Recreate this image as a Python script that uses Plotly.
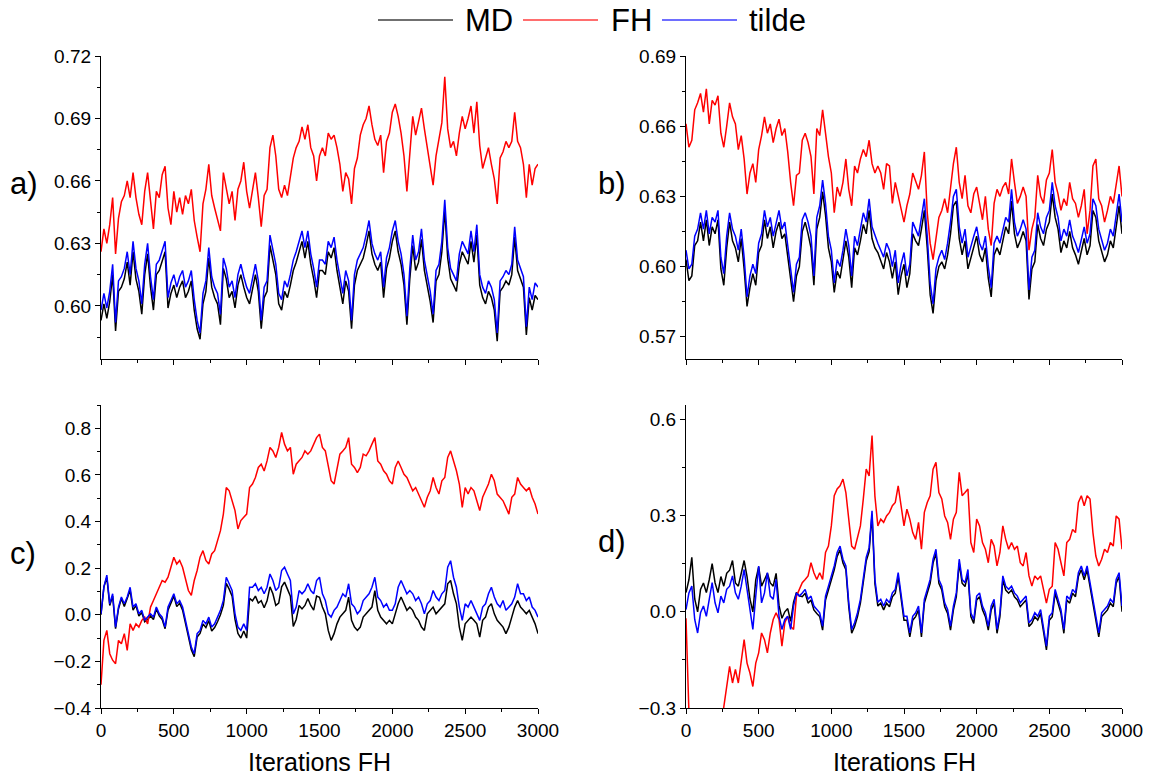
import numpy as np
import plotly.graph_objects as go

STEP = 20  # iterations between stored samples

# ---------------- panel a ----------------
a_md = [0.593, 0.601, 0.594, 0.602, 0.615, 0.588, 0.607, 0.609, 0.613, 0.621,
        0.610, 0.626, 0.613, 0.607, 0.596, 0.615, 0.625, 0.609, 0.598, 0.615,
        0.617, 0.621, 0.626, 0.599, 0.606, 0.610, 0.604, 0.609, 0.612, 0.604,
        0.607, 0.612, 0.598, 0.589, 0.584, 0.601, 0.607, 0.623, 0.609, 0.604,
        0.601, 0.591, 0.618, 0.613, 0.604, 0.607, 0.599, 0.610, 0.615, 0.609,
        0.604, 0.601, 0.609, 0.615, 0.607, 0.589, 0.604, 0.607, 0.629, 0.621,
        0.615, 0.601, 0.598, 0.607, 0.604, 0.610, 0.617, 0.621, 0.626, 0.631,
        0.623, 0.631, 0.620, 0.613, 0.604, 0.617,
        0.617, 0.615, 0.626, 0.623, 0.628, 0.617, 0.609, 0.601, 0.612,
        0.607, 0.589, 0.610, 0.617, 0.620, 0.623, 0.629, 0.636, 0.625, 0.620,
        0.617, 0.621, 0.604, 0.618, 0.623, 0.631, 0.636, 0.626, 0.620, 0.610,
        0.591, 0.613, 0.629, 0.617, 0.621, 0.632, 0.617, 0.610, 0.602, 0.592,
        0.612, 0.615, 0.626, 0.646, 0.623, 0.613, 0.610, 0.607, 0.620, 0.626,
        0.623, 0.620, 0.631, 0.621, 0.634, 0.610, 0.604, 0.601, 0.607, 0.604,
        0.598, 0.583, 0.607, 0.609, 0.612, 0.610, 0.615, 0.633, 0.617, 0.613,
        0.609, 0.586, 0.604, 0.598, 0.605, 0.603]
a_fh = [0.626, 0.637, 0.630, 0.639, 0.652, 0.625, 0.642, 0.650, 0.653, 0.660,
        0.652, 0.664, 0.652, 0.644, 0.639, 0.655, 0.664, 0.650, 0.637, 0.655,
        0.652, 0.663, 0.667, 0.647, 0.639, 0.655, 0.645, 0.652, 0.644, 0.653,
        0.649, 0.656, 0.641, 0.633, 0.626, 0.649, 0.656, 0.668, 0.653, 0.647,
        0.642, 0.636, 0.664, 0.656, 0.649, 0.655, 0.641, 0.656, 0.660, 0.669,
        0.655, 0.647, 0.655, 0.664, 0.652, 0.638, 0.653, 0.656, 0.676, 0.682,
        0.672, 0.656, 0.652, 0.658, 0.653, 0.661, 0.671, 0.676, 0.679, 0.686,
        0.680, 0.687, 0.676, 0.672, 0.660, 0.672,
        0.676, 0.672, 0.683, 0.680, 0.682, 0.676, 0.668, 0.655, 0.664,
        0.661, 0.649, 0.666, 0.671, 0.682, 0.687, 0.690, 0.696, 0.687, 0.680,
        0.677, 0.682, 0.664, 0.679, 0.683, 0.693, 0.697, 0.691, 0.683, 0.672,
        0.655, 0.674, 0.691, 0.682, 0.688, 0.695, 0.685, 0.676, 0.666, 0.658,
        0.672, 0.680, 0.688, 0.710, 0.685, 0.676, 0.679, 0.672, 0.683, 0.691,
        0.685, 0.690, 0.696, 0.683, 0.698, 0.677, 0.666, 0.671, 0.676, 0.668,
        0.661, 0.649, 0.671, 0.674, 0.679, 0.676, 0.679, 0.693, 0.679, 0.676,
        0.668, 0.652, 0.668, 0.658, 0.666, 0.668]
a_tilde = [0.598, 0.606, 0.599, 0.607, 0.620, 0.592, 0.612, 0.614, 0.618, 0.626,
           0.615, 0.631, 0.618, 0.612, 0.601, 0.620, 0.630, 0.614, 0.603, 0.620,
           0.622, 0.626, 0.631, 0.604, 0.611, 0.615, 0.609, 0.614, 0.617, 0.609,
           0.612, 0.617, 0.603, 0.593, 0.587, 0.606, 0.612, 0.628, 0.614, 0.609,
           0.606, 0.596, 0.623, 0.618, 0.609, 0.612, 0.604, 0.615, 0.620, 0.614,
           0.609, 0.606, 0.614, 0.620, 0.612, 0.593, 0.609, 0.612, 0.634, 0.626,
           0.620, 0.606, 0.603, 0.612, 0.609, 0.615, 0.622, 0.626, 0.631, 0.636,
           0.628, 0.636, 0.625, 0.618, 0.609, 0.622,
           0.622, 0.620, 0.631, 0.628, 0.633, 0.622, 0.614, 0.606, 0.617,
           0.612, 0.593, 0.615, 0.622, 0.625, 0.628, 0.634, 0.641, 0.630, 0.625,
           0.622, 0.626, 0.609, 0.623, 0.628, 0.636, 0.641, 0.631, 0.625, 0.615,
           0.595, 0.618, 0.634, 0.622, 0.626, 0.637, 0.622, 0.615, 0.607, 0.596,
           0.617, 0.620, 0.631, 0.651, 0.628, 0.618, 0.615, 0.612, 0.625, 0.631,
           0.628, 0.625, 0.636, 0.626, 0.639, 0.615, 0.609, 0.606, 0.612, 0.609,
           0.603, 0.587, 0.612, 0.614, 0.617, 0.615, 0.620, 0.638, 0.622, 0.618,
           0.614, 0.590, 0.609, 0.603, 0.611, 0.609]

# ---------------- panel b ----------------
b_md = [0.603, 0.594, 0.596, 0.609, 0.611, 0.619, 0.611, 0.620, 0.609, 0.617,
        0.614, 0.620, 0.599, 0.592, 0.608, 0.619, 0.611, 0.608, 0.602, 0.612,
        0.599, 0.583, 0.591, 0.597, 0.592, 0.606, 0.609, 0.620, 0.612, 0.617,
        0.608, 0.615, 0.619, 0.612, 0.614, 0.604, 0.594, 0.585, 0.596, 0.600,
        0.615, 0.619, 0.614, 0.608, 0.592, 0.616, 0.621, 0.632, 0.622, 0.608,
        0.602, 0.589, 0.598, 0.595, 0.603, 0.611, 0.604, 0.591, 0.608, 0.605,
        0.611, 0.618, 0.614, 0.624, 0.612, 0.608, 0.606, 0.602, 0.599, 0.606,
        0.602, 0.595, 0.602, 0.588, 0.596, 0.601,
        0.591, 0.597, 0.614, 0.611, 0.609, 0.616, 0.624, 0.608, 0.588,
        0.580, 0.594, 0.600, 0.602, 0.599, 0.605, 0.614, 0.626, 0.628, 0.612,
        0.605, 0.611, 0.599, 0.604, 0.608, 0.613, 0.605, 0.602, 0.608, 0.595,
        0.587, 0.605, 0.608, 0.605, 0.611, 0.617, 0.614, 0.628, 0.614, 0.608,
        0.611, 0.615, 0.611, 0.586, 0.599, 0.602, 0.618, 0.612, 0.609, 0.616,
        0.619, 0.631, 0.621, 0.616, 0.606, 0.611, 0.608, 0.615, 0.608, 0.605,
        0.601, 0.606, 0.612, 0.605, 0.609, 0.624, 0.621, 0.611, 0.606, 0.602,
        0.605, 0.611, 0.608, 0.616, 0.626, 0.614]
b_fh = [0.661, 0.651, 0.654, 0.667, 0.670, 0.674, 0.666, 0.676, 0.661, 0.671,
        0.669, 0.673, 0.657, 0.651, 0.660, 0.670, 0.664, 0.661, 0.650, 0.656,
        0.646, 0.631, 0.640, 0.644, 0.636, 0.650, 0.656, 0.664, 0.657, 0.661,
        0.653, 0.659, 0.663, 0.656, 0.659, 0.649, 0.636, 0.626, 0.639, 0.640,
        0.654, 0.657, 0.653, 0.647, 0.631, 0.659, 0.656, 0.667, 0.657, 0.647,
        0.640, 0.623, 0.634, 0.630, 0.636, 0.646, 0.633, 0.626, 0.643, 0.640,
        0.646, 0.650, 0.647, 0.654, 0.644, 0.640, 0.643, 0.640, 0.633, 0.644,
        0.643, 0.627, 0.636, 0.630, 0.624, 0.619,
        0.626, 0.631, 0.640, 0.636, 0.633, 0.639, 0.649, 0.623, 0.610,
        0.603, 0.613, 0.621, 0.624, 0.629, 0.623, 0.633, 0.644, 0.651, 0.636,
        0.629, 0.639, 0.626, 0.623, 0.631, 0.634, 0.627, 0.620, 0.630, 0.616,
        0.609, 0.627, 0.633, 0.630, 0.634, 0.636, 0.631, 0.646, 0.636, 0.627,
        0.630, 0.634, 0.630, 0.607, 0.616, 0.621, 0.639, 0.630, 0.627, 0.637,
        0.640, 0.650, 0.636, 0.631, 0.624, 0.629, 0.626, 0.636, 0.629, 0.627,
        0.621, 0.626, 0.633, 0.614, 0.624, 0.643, 0.646, 0.629, 0.626, 0.619,
        0.624, 0.630, 0.627, 0.636, 0.643, 0.630]
b_tilde = [0.607, 0.599, 0.601, 0.613, 0.616, 0.623, 0.616, 0.624, 0.614, 0.621,
           0.619, 0.624, 0.604, 0.597, 0.613, 0.623, 0.616, 0.613, 0.607, 0.616,
           0.604, 0.587, 0.596, 0.601, 0.597, 0.610, 0.614, 0.624, 0.617, 0.621,
           0.613, 0.619, 0.624, 0.616, 0.619, 0.609, 0.599, 0.589, 0.601, 0.604,
           0.620, 0.623, 0.619, 0.613, 0.596, 0.621, 0.626, 0.637, 0.627, 0.613,
           0.607, 0.593, 0.603, 0.600, 0.607, 0.616, 0.609, 0.596, 0.613, 0.609,
           0.616, 0.623, 0.619, 0.629, 0.617, 0.613, 0.610, 0.607, 0.604, 0.610,
           0.607, 0.600, 0.607, 0.593, 0.601, 0.606,
           0.596, 0.601, 0.619, 0.616, 0.613, 0.621, 0.629, 0.613, 0.593,
           0.584, 0.599, 0.604, 0.607, 0.603, 0.610, 0.619, 0.630, 0.633, 0.617,
           0.610, 0.616, 0.604, 0.609, 0.613, 0.617, 0.610, 0.607, 0.613, 0.600,
           0.591, 0.610, 0.613, 0.610, 0.616, 0.621, 0.619, 0.633, 0.619, 0.613,
           0.616, 0.620, 0.616, 0.590, 0.604, 0.607, 0.623, 0.617, 0.614, 0.621,
           0.624, 0.636, 0.626, 0.621, 0.611, 0.616, 0.613, 0.620, 0.613, 0.610,
           0.606, 0.611, 0.617, 0.610, 0.614, 0.629, 0.626, 0.616, 0.611, 0.607,
           0.610, 0.616, 0.613, 0.621, 0.631, 0.619]

# ---------------- panel c ----------------
c_md = [0.0, 0.12, 0.16, 0.04, 0.08, -0.06, 0.025, 0.07, 0.035, 0.07,
        0.105, 0.02, 0.04, -0.005, 0.01, -0.03, -0.02, -0.005, -0.02, 0.025,
        -0.005, -0.02, -0.06, 0.02, 0.05, 0.08, 0.035, 0.05, 0.02, -0.035,
        -0.09, -0.15, -0.18, -0.095, -0.08, -0.04, -0.055, -0.025, -0.07, -0.055,
        -0.03, 0.0, 0.04, 0.135, 0.11, 0.08, -0.02, -0.08, -0.1, -0.07,
        -0.1, 0.07, 0.06, 0.08, 0.05, 0.06, 0.03, 0.06, 0.12, 0.09,
        0.04, 0.05, 0.12, 0.14, 0.11, 0.08, -0.05, -0.02, 0.04, 0.025,
        0.04, 0.07, 0.04, 0.02, 0.08, 0.075,
        0.033, 0.004, -0.067, -0.11, -0.081, -0.039, -0.01, 0.004, 0.019,
        0.076, -0.024, -0.053, -0.067, -0.053, -0.01, 0.004, 0.019, 0.033, 0.104,
        0.019, -0.01, -0.024, -0.039, -0.024, -0.039, 0.004, 0.047, 0.076, 0.047,
        0.019, 0.033, 0.019, -0.01, -0.024, -0.053, -0.067, 0.004, 0.019, 0.033,
        0.004, 0.019, 0.033, 0.047, 0.133, 0.147, 0.09, 0.047, -0.053, -0.11,
        -0.039, -0.024, -0.01, -0.024, -0.039, -0.096, -0.024, -0.01, 0.033, 0.047,
        0.004, -0.024, -0.039, -0.053, -0.081, -0.053, -0.01, 0.033, 0.061, 0.033,
        0.019, 0.004, 0.019, -0.01, -0.039, -0.081]
c_fh = [-0.30, -0.11, -0.067, -0.167, -0.195, -0.21, -0.11, -0.124, -0.081, -0.153,
        -0.039, -0.067, -0.039, -0.053, -0.024, -0.01, -0.039, 0.033, 0.061, 0.09,
        0.118, 0.147, 0.14, 0.161, 0.204, 0.247, 0.218, 0.233, 0.204, 0.147,
        0.104, 0.083, 0.147, 0.19, 0.247, 0.275, 0.233, 0.218, 0.261, 0.275,
        0.318, 0.361, 0.432, 0.546, 0.532, 0.489, 0.447, 0.368, 0.404, 0.418,
        0.432, 0.546, 0.561, 0.589, 0.632, 0.646, 0.617, 0.66, 0.718, 0.703,
        0.675, 0.718, 0.782, 0.732, 0.703, 0.718, 0.603, 0.646, 0.66, 0.675,
        0.703, 0.689, 0.703, 0.732, 0.76, 0.775,
        0.718, 0.703, 0.632, 0.575, 0.561, 0.618, 0.689, 0.703, 0.718,
        0.76, 0.646, 0.632, 0.61, 0.632, 0.689, 0.682, 0.703, 0.732, 0.76,
        0.66, 0.646, 0.618, 0.603, 0.575, 0.561, 0.632, 0.66, 0.632, 0.603,
        0.589, 0.561, 0.532, 0.546, 0.518, 0.489, 0.461, 0.504, 0.532, 0.589,
        0.546, 0.518, 0.575, 0.589, 0.675, 0.703, 0.66, 0.618, 0.561, 0.461,
        0.546, 0.518, 0.546, 0.532, 0.489, 0.447, 0.504, 0.532, 0.561, 0.603,
        0.575, 0.518, 0.504, 0.489, 0.461, 0.432, 0.504, 0.518, 0.589, 0.561,
        0.546, 0.532, 0.546, 0.504, 0.475, 0.432]
c_tilde = [0.004, 0.12, 0.17, 0.047, 0.09, -0.053, 0.033, 0.076, 0.047, 0.076,
           0.118, 0.033, 0.047, 0.004, 0.019, -0.024, -0.01, 0.004, -0.01, 0.033,
           0.004, -0.01, -0.053, 0.033, 0.061, 0.09, 0.047, 0.061, 0.033, -0.024,
           -0.081, -0.138, -0.167, -0.081, -0.067, -0.024, -0.039, -0.01, -0.053, -0.039,
           -0.01, 0.019, 0.061, 0.161, 0.133, 0.104, 0.004, -0.053, -0.067, -0.039,
           -0.067, 0.118, 0.118, 0.133, 0.104, 0.118, 0.09, 0.118, 0.175, 0.147,
           0.104, 0.118, 0.19, 0.204, 0.175, 0.147, 0.004, 0.033, 0.104, 0.09,
           0.104, 0.133, 0.104, 0.09, 0.147, 0.161,
           0.09, 0.061, 0.004, -0.01, 0.019, 0.033, 0.061, 0.09, 0.076,
           0.133, 0.047, 0.033, 0.004, 0.019, 0.061, 0.076, 0.09, 0.118, 0.161,
           0.076, 0.061, 0.033, 0.047, 0.019, 0.019, 0.047, 0.118, 0.147, 0.118,
           0.09, 0.104, 0.09, 0.061, 0.076, 0.047, 0.004, 0.047, 0.061, 0.104,
           0.076, 0.061, 0.09, 0.104, 0.204, 0.232, 0.161, 0.118, 0.033, -0.024,
           0.047, 0.033, 0.061, 0.033, 0.004, -0.024, 0.033, 0.047, 0.09, 0.118,
           0.076, 0.047, 0.033, 0.061, 0.019, 0.033, 0.047, 0.076, 0.133, 0.09,
           0.09, 0.061, 0.076, 0.033, 0.019, -0.01]

# ---------------- panel d ----------------
d_md = [0.06, 0.1, 0.17, 0.04, 0.0, 0.07, 0.09, 0.06, 0.1, 0.15,
        0.09, 0.06, 0.11, 0.08, 0.12, 0.13, 0.16, 0.09, 0.08, 0.12,
        0.16, 0.11, 0.04, 0.0, 0.1, 0.14, 0.08, 0.1, 0.12, 0.09,
        0.08, 0.12, 0.02, -0.02, 0.0, 0.01, -0.03, 0.03, 0.06, 0.05,
        0.047, 0.058, 0.027, 0.037, 0.006, -0.005, -0.015, -0.057, 0.037, 0.068,
        0.1, 0.131, 0.173, 0.193, 0.152, 0.131, 0.016, -0.067, -0.046, -0.015,
        0.027, 0.1, 0.158, 0.188, 0.303, 0.088, 0.018, 0.027, 0.006, 0.027,
        0.016, 0.047, 0.058, 0.11, 0.037, -0.026,
        -0.026, -0.078, -0.026, -0.015, 0.006, -0.078, 0.027, 0.058, 0.089,
        0.152, 0.183, 0.089, 0.068, 0.016, -0.005, -0.057, 0.006, 0.047, 0.152,
        0.089, 0.079, 0.12, -0.015, -0.036, 0.037, 0.047, 0.006, -0.015, -0.057,
        0.006, 0.027, -0.067, -0.015, 0.1, 0.068, 0.058, 0.068, 0.047, 0.037,
        0.016, 0.027, 0.037, -0.046, -0.036, -0.015, -0.026, -0.005, -0.067, -0.119,
        -0.026, -0.015, 0.058, 0.027, -0.005, -0.067, 0.037, 0.027, 0.058, 0.047,
        0.11, 0.131, 0.1, 0.131, 0.079, 0.037, -0.026, -0.078, -0.015, -0.005,
        0.006, 0.027, 0.016, 0.089, 0.11, 0.0]
d_fh = [-0.02, -0.55, -0.6, -0.58, -0.62, -0.6, -0.55, -0.5, -0.52, -0.48,
        -0.45, -0.42, -0.36, -0.30, -0.233, -0.17, -0.222, -0.18, -0.222, -0.149,
        -0.087, -0.16, -0.191, -0.233, -0.16, -0.128, -0.066, -0.087, -0.128, -0.066,
        -0.024, -0.003, -0.024, -0.107, -0.034, -0.014, -0.045, -0.055, 0.049, 0.07,
        0.091, 0.101, 0.112, 0.153, 0.122, 0.101, 0.122, 0.101, 0.185, 0.205,
        0.268, 0.362, 0.383, 0.393, 0.414, 0.372, 0.289, 0.205, 0.195, 0.236,
        0.268, 0.352, 0.445, 0.424, 0.55, 0.36, 0.268, 0.289, 0.279, 0.299,
        0.31, 0.331, 0.341, 0.393, 0.331, 0.268,
        0.32, 0.289, 0.247, 0.226, 0.279, 0.195, 0.31, 0.341, 0.362,
        0.445, 0.466, 0.372, 0.352, 0.299, 0.279, 0.226, 0.289, 0.31, 0.435,
        0.362, 0.372, 0.383, 0.216, 0.185, 0.289, 0.268, 0.216, 0.195, 0.153,
        0.226, 0.205, 0.143, 0.185, 0.268, 0.226, 0.195, 0.216, 0.195, 0.205,
        0.153, 0.143, 0.185, 0.112, 0.08, 0.112, 0.101, 0.112, 0.07, 0.027,
        0.07, 0.08, 0.216, 0.195, 0.153, 0.112, 0.216, 0.226, 0.257, 0.247,
        0.341, 0.362, 0.331, 0.362, 0.352, 0.247, 0.174, 0.143, 0.164, 0.195,
        0.185, 0.216, 0.205, 0.299, 0.289, 0.195]
d_tilde = [0.007, 0.059, 0.08, -0.024, -0.066, -0.003, 0.018, -0.014, 0.039, 0.091,
           0.028, -0.003, 0.049, 0.028, 0.07, 0.08, 0.112, 0.059, 0.039, 0.08,
           0.132, 0.07, -0.003, -0.055, 0.049, 0.143, 0.028, 0.059, 0.122, 0.049,
           0.039, 0.101, -0.014, -0.055, -0.024, -0.014, -0.055, 0.018, 0.059, 0.049,
           0.059, 0.07, 0.039, 0.049, 0.018, 0.007, -0.003, -0.045, 0.049, 0.08,
           0.112, 0.143, 0.185, 0.205, 0.164, 0.143, 0.028, -0.055, -0.034, -0.003,
           0.039, 0.112, 0.17, 0.2, 0.315, 0.1, 0.03, 0.039, 0.018, 0.039,
           0.028, 0.059, 0.07, 0.122, 0.049, -0.014,
           -0.014, -0.066, -0.014, -0.003, 0.018, -0.066, 0.039, 0.07, 0.101,
           0.164, 0.195, 0.101, 0.08, 0.028, 0.007, -0.045, 0.018, 0.059, 0.164,
           0.101, 0.091, 0.132, -0.003, -0.024, 0.049, 0.059, 0.018, -0.003, -0.045,
           0.018, 0.039, -0.055, -0.003, 0.112, 0.08, 0.07, 0.08, 0.059, 0.049,
           0.028, 0.039, 0.049, -0.034, -0.024, -0.003, -0.014, 0.007, -0.055, -0.107,
           -0.014, -0.003, 0.07, 0.039, 0.007, -0.055, 0.049, 0.039, 0.07, 0.059,
           0.122, 0.143, 0.112, 0.143, 0.091, 0.049, -0.014, -0.066, -0.003, 0.007,
           0.018, 0.039, 0.028, 0.101, 0.122, 0.018]

series_names = ["MD", "FH", "tilde"]
series_colors = ["#000000", "#ff0000", "#0000ff"]
panels = [
    ("a)", [a_md, a_fh, a_tilde]),
    ("b)", [b_md, b_fh, b_tilde]),
    ("c)", [c_md, c_fh, c_tilde]),
    ("d)", [d_md, d_fh, d_tilde]),
]
y_ranges = [[0.5745, 0.72], [0.5605, 0.69], [-0.4, 0.9], [-0.3, 0.645]]
y_ticks = [(0.6, 0.03, 0.015, ".2f"), (0.57, 0.03, 0.015, ".2f"),
           (0.0, 0.2, 0.1, ".1f"), (0.0, 0.3, 0.15, ".1f")]

W, H = 1156, 778
px = lambda x: x / W
py = lambda y: (H - y) / H
x_dom = [[px(101), px(538)], [px(686), px(1122)], [px(101), px(538)], [px(686), px(1122)]]
y_dom = [[py(359), py(56)], [py(359), py(56)], [py(708), py(405)], [py(708), py(405)]]

FONT = "Liberation Sans, Arial, sans-serif"
fig = go.Figure()

for i, (lab, data) in enumerate(panels):
    xa = "x" if i == 0 else f"x{i+1}"
    ya = "y" if i == 0 else f"y{i+1}"
    for name, col, ys in zip(series_names, series_colors, data):
        xs = (np.arange(len(ys)) * STEP).tolist()
        fig.add_trace(go.Scatter(x=xs, y=ys, mode="lines", name=name,
                                 line=dict(color=col, width=1.5),
                                 xaxis=xa, yaxis=ya, showlegend=False,
                                 hoverinfo="skip"))
    t0, dt, mdt, fmt = y_ticks[i]
    axis_common = dict(showline=True, linecolor="black", linewidth=1.2,
                       ticks="outside", ticklen=5, tickwidth=1.2, tickcolor="black",
                       showgrid=False, zeroline=False, mirror=False, automargin=False,
                       tickfont=dict(family=FONT, size=19, color="black"))
    fig.layout[f"xaxis{'' if i == 0 else i+1}"] = dict(
        domain=x_dom[i], anchor=ya, range=[0, 3000], tick0=0, dtick=500,
        minor=dict(ticks="outside", ticklen=3, dtick=250, tickcolor="black", tickwidth=1.2),
        showticklabels=(i >= 2), **axis_common)
    fig.layout[f"yaxis{'' if i == 0 else i+1}"] = dict(
        domain=y_dom[i], anchor=xa, range=y_ranges[i], tick0=t0, dtick=dt,
        tickformat=fmt,
        minor=dict(ticks="outside", ticklen=3, dtick=mdt, tick0=t0, tickcolor="black", tickwidth=1.2),
        **axis_common)

# panel labels
label_pos = [(8, 183), (596, 183), (8, 553), (596, 541)]
annotations = []
for (lab, _), (lx, ly) in zip(panels, label_pos):
    annotations.append(dict(text=lab, x=px(lx), y=py(ly), xref="paper", yref="paper",
                            xanchor="left", yanchor="middle", showarrow=False,
                            font=dict(family=FONT, size=31, color="black")))
# x axis titles
for cx in (319.5, 905):
    annotations.append(dict(text="Iterations FH", x=px(cx), y=py(762), xref="paper", yref="paper",
                            xanchor="center", yanchor="middle", showarrow=False,
                            font=dict(family=FONT, size=25, color="black")))

# legend (drawn manually at top)
legend_items = [(378, 453, 463), (523, 598, 609), (662, 737, 747)]
legend_line_cols = ["#707070", "#ff6e6e", "#6e6eff"]
shapes = []
for (x0, x1, tx), name, col in zip(legend_items, series_names, legend_line_cols):
    shapes.append(dict(type="line", xref="paper", yref="paper", x0=px(x0), x1=px(x1),
                       y0=py(20), y1=py(20), line=dict(color=col, width=2)))
    annotations.append(dict(text=name, x=px(tx), y=py(21), xref="paper", yref="paper",
                            xanchor="left", yanchor="middle", showarrow=False,
                            font=dict(family=FONT, size=31, color="black")))

fig.update_layout(width=W, height=H, autosize=False,
                  margin=dict(l=0, r=0, t=0, b=0, pad=0, autoexpand=False),
                  paper_bgcolor="white", plot_bgcolor="white",
                  annotations=annotations, shapes=shapes, showlegend=False)

fig.write_html("out.html", config={"responsive": False})
